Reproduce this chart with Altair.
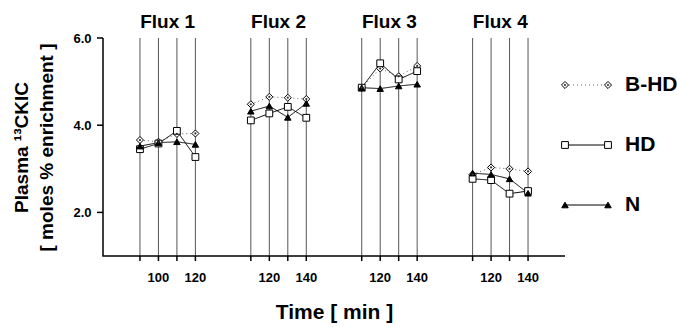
import altair as alt
import pandas as pd

# ---- data ----
flux_names = ["Flux 1", "Flux 2", "Flux 3", "Flux 4"]
flux_times = [
    [90, 100, 110, 120],
    [110, 120, 130, 140],
    [110, 120, 130, 140],
    [110, 120, 130, 140],
]
bhd = [3.66, 3.62, 3.80, 3.81,
       4.48, 4.65, 4.63, 4.60,
       4.86, 5.30, 5.12, 5.36,
       2.87, 3.03, 3.00, 2.94]
hd = [3.45, 3.58, 3.87, 3.27,
      4.11, 4.27, 4.42, 4.17,
      4.86, 5.42, 5.05, 5.24,
      2.77, 2.74, 2.43, 2.49]
n = [3.52, 3.60, 3.62, 3.56,
     4.32, 4.44, 4.18, 4.50,
     4.86, 4.84, 4.90, 4.94,
     2.90, 2.87, 2.77, 2.44]
series_names = ["B-HD", "HD", "N"]
series_values = [bhd, hd, n]
labelled_times = [100, 120, 140]   # times that carry a tick label
y_ticks = [2.0, 4.0, 6.0]
group_gap = 6  # slots per flux block (4 samples + gap)

X_MIN, X_MAX = -2, 23
Y_MIN, Y_MAX = 1, 6
W, H = 462, 218
XTICK = 5 / H * (Y_MAX - Y_MIN)      # 5 px tick length in data units
YTICK = 6 / W * (X_MAX - X_MIN)      # 6 px tick length in data units

rows, tick_rows, flux_rows, seg_rows = [], [], [], []
for fi, (fname, times) in enumerate(zip(flux_names, flux_times)):
    start = times[0]
    ps = []
    for ti, t in enumerate(times):
        pos = fi * group_gap + (t - start) // 10
        ps.append(pos)
        tick_rows.append({"pos": pos, "label": str(t) if t in labelled_times and ti > 0 else ""})
        seg_rows.append({"sid": f"x{pos}", "k": 0, "sx": pos, "sy": Y_MIN, "kind": "axis"})
        seg_rows.append({"sid": f"x{pos}", "k": 1, "sx": pos, "sy": Y_MIN - XTICK, "kind": "axis"})
        for sname, vals in zip(series_names, series_values):
            rows.append({"flux": fname, "time": t, "pos": pos, "series": sname,
                         "value": vals[fi * 4 + ti]})
    flux_rows.append({"flux": fname, "pos": sum(ps) / len(ps)})
for v in y_ticks:
    seg_rows.append({"sid": f"y{v}", "k": 0, "sx": X_MIN, "sy": v, "kind": "axis"})
    seg_rows.append({"sid": f"y{v}", "k": 1, "sx": X_MIN - YTICK, "sy": v, "kind": "axis"})
# axis lines (L shape)
for k, (xx, yy) in enumerate([(X_MIN, Y_MAX), (X_MIN, Y_MIN), (X_MAX, Y_MIN)]):
    seg_rows.append({"sid": "domain", "k": k, "sx": xx, "sy": yy, "kind": "axis"})

df = pd.DataFrame(rows)
df_ticks = pd.DataFrame(tick_rows)
df_flux = pd.DataFrame(flux_rows)
df_seg = pd.DataFrame(seg_rows)

FONT = "Liberation Sans"
shape_scale = alt.Scale(domain=series_names, range=["diamond", "square", "triangle-up"])
fill_scale = alt.Scale(domain=series_names, range=["white", "white", "black"])
dash_scale = alt.Scale(domain=series_names, range=[[1, 3], [1, 0], [1, 0]])
stroke_scale = alt.Scale(domain=series_names, range=["#666666", "black", "black"])
size_scale = alt.Scale(domain=series_names, range=[50, 42, 52])

x_enc = alt.X("pos:Q", scale=alt.Scale(domain=[X_MIN, X_MAX], nice=False, zero=False),
              axis=alt.Axis(grid=False, ticks=False, labels=False, domain=False,
                            title="Time [ min ]", titleFont=FONT, titleFontSize=21,
                            titleFontWeight="bold", titleColor="black",
                            titleY=56, titleBaseline="middle"))
y_enc = alt.Y("value:Q", scale=alt.Scale(domain=[Y_MIN, Y_MAX], nice=False, zero=False),
              axis=alt.Axis(values=y_ticks, format=".1f", grid=False, ticks=False, domain=False,
                            title=["Plasma \u00b9\u00b3CKIC", "[ moles % enrichment  ]"],
                            labelFont=FONT, labelFontSize=13, labelFontWeight="bold",
                            labelColor="black", labelPadding=12,
                            titleFont=FONT, titleFontSize=19, titleFontWeight="bold",
                            titleColor="black", titlePadding=16, titleLineHeight=25))

# data-driven grid lines and tick labels
grid = alt.Chart(df_ticks).mark_rule(color="#555555", strokeWidth=1).encode(
    x=x_enc, y=alt.datum(Y_MAX), y2=alt.datum(Y_MIN))
xlabels = alt.Chart(df_ticks).mark_text(font=FONT, fontSize=13, fontWeight="bold",
                                        color="black", baseline="middle").encode(
    x="pos:Q", y=alt.datum(Y_MIN - 4.4 * XTICK), text="label:N")

base = alt.Chart(df)
lines = base.mark_line(strokeWidth=1).encode(
    x="pos:Q", y=y_enc,
    detail="flux:N",
    strokeDash=alt.StrokeDash("series:N", scale=dash_scale, legend=None),
    stroke=alt.Stroke("series:N", scale=stroke_scale, legend=None),
    order="pos:Q",
)
points = base.mark_point(filled=False, strokeWidth=1, opacity=1).encode(
    x="pos:Q", y="value:Q",
    shape=alt.Shape("series:N", scale=shape_scale, legend=None),
    fill=alt.Fill("series:N", scale=fill_scale, legend=None),
    size=alt.Size("series:N", scale=size_scale, legend=None),
    stroke=alt.value("black"),
    order=alt.Order("series:N", sort="ascending"),
)
dots = base.transform_filter(alt.datum.series == "B-HD").mark_circle(
    size=5, color="#333333", opacity=1).encode(x="pos:Q", y="value:Q")
flux_text = alt.Chart(df_flux).mark_text(font=FONT, fontSize=19, fontWeight="bold",
                                         color="black", baseline="middle").encode(
    x="pos:Q", y=alt.value(-16), text="flux:N")

main = alt.layer(grid, lines, xlabels, points, dots, flux_text)

# ---- axis lines and ticks, own layer with the same mapping ----
axes_layer = alt.Chart(df_seg).mark_line(strokeWidth=1.5).encode(
    x=alt.X("sx:Q", scale=alt.Scale(domain=[X_MIN, X_MAX], range=[0, W], nice=False, zero=False), axis=None),
    y=alt.Y("sy:Q", scale=alt.Scale(domain=[Y_MIN, Y_MAX], range=[H, 0], nice=False, zero=False), axis=None),
    detail="sid:N", order="k:Q",
    stroke=alt.Stroke("kind:N", scale=alt.Scale(domain=["axis"], range=["black"]), legend=None))

# ---- manual legend ----
leg_rows = []
for i, s in enumerate(series_names):
    for e in [0, 1]:
        leg_rows.append({"series": s, "row": i, "end": e})
df_leg = pd.DataFrame(leg_rows)
lx = alt.X("end:Q", scale=alt.Scale(domain=[0, 1], range=[462, 505]), axis=None)
ly = alt.Y("row:Q", scale=alt.Scale(domain=[0, 2], range=[47, 167]), axis=None)
leg_base = alt.Chart(df_leg)
leg_lines = leg_base.mark_line(strokeWidth=1).encode(
    x=lx, y=ly, detail="series:N",
    strokeDash=alt.StrokeDash("series:N", scale=dash_scale, legend=None),
    stroke=alt.Stroke("series:N", scale=stroke_scale, legend=None))
leg_points = leg_base.mark_point(filled=False, strokeWidth=1, opacity=1).encode(
    x="end:Q", y="row:Q",
    shape=alt.Shape("series:N", scale=shape_scale, legend=None),
    fill=alt.Fill("series:N", scale=fill_scale, legend=None),
    size=alt.Size("series:N", scale=size_scale, legend=None),
    stroke=alt.value("black"))
leg_dots = leg_base.transform_filter(alt.datum.series == "B-HD").mark_circle(
    size=5, color="#333333", opacity=1).encode(x="end:Q", y="row:Q")
leg_text = leg_base.transform_filter(alt.datum.end == 1).mark_text(
    font=FONT, fontSize=21, fontWeight="bold", color="black", align="left",
    baseline="middle", dx=17).encode(x="end:Q", y="row:Q", text="series:N")
legend = alt.layer(leg_lines, leg_points, leg_dots, leg_text)

chart = alt.layer(main, axes_layer, legend).resolve_scale(
    x="independent", y="independent", stroke="independent").properties(
    width=W, height=H,
    background="white",
    autosize=alt.AutoSizeParams(type="none"),
    padding={"left": 103, "top": 38, "right": 112, "bottom": 71},
).configure_view(stroke=None)

chart.save("out.html", embed_options={"renderer": "svg", "actions": False})
